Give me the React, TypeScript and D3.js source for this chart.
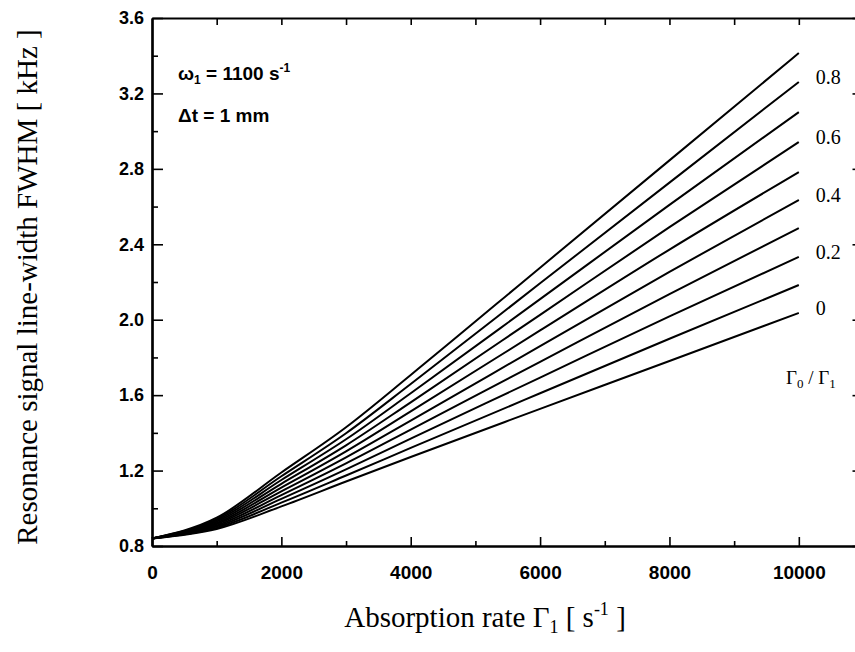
import * as d3 from 'd3';
import { useEffect, useRef } from 'react';

const WIDTH = 855;
const HEIGHT = 652;

// absorption rate samples (s^-1)
const RATE = [0, 1000, 2000, 3000, 4000, 6000, 8000, 10000];

// FWHM (kHz), one array per Γ0/Γ1 ratio
const FWHM_00 = [0.84, 0.89, 1.01, 1.142, 1.272, 1.527, 1.781, 2.036];
const FWHM_01 = [0.84, 0.896, 1.03, 1.174, 1.32, 1.61, 1.899, 2.184];
const FWHM_02 = [0.84, 0.903, 1.05, 1.206, 1.369, 1.693, 2.018, 2.333];
const FWHM_03 = [0.84, 0.909, 1.07, 1.238, 1.417, 1.777, 2.136, 2.486];
const FWHM_04 = [0.84, 0.916, 1.09, 1.27, 1.465, 1.86, 2.254, 2.635];
const FWHM_05 = [0.84, 0.922, 1.11, 1.302, 1.514, 1.943, 2.372, 2.783];
const FWHM_06 = [0.84, 0.929, 1.13, 1.334, 1.562, 2.026, 2.491, 2.942];
const FWHM_07 = [0.84, 0.936, 1.15, 1.366, 1.61, 2.109, 2.609, 3.101];
const FWHM_08 = [0.84, 0.943, 1.17, 1.398, 1.659, 2.193, 2.727, 3.261];
const FWHM_09 = [0.84, 0.95, 1.19, 1.43, 1.707, 2.276, 2.845, 3.414];

const SERIES = [FWHM_00, FWHM_01, FWHM_02, FWHM_03, FWHM_04, FWHM_05, FWHM_06, FWHM_07, FWHM_08, FWHM_09];

// labelled curves on the right and their text
const RATIO_LABELS = ['0', '0.2', '0.4', '0.6', '0.8'];
const RATIO_LABEL_SERIES = [FWHM_00, FWHM_02, FWHM_04, FWHM_06, FWHM_08];

const X_TICKS = [0, 2000, 4000, 6000, 8000, 10000];
const Y_TICKS = [0.8, 1.2, 1.6, 2.0, 2.4, 2.8, 3.2, 3.6];

export default function App() {
    const svgRef = useRef<SVGSVGElement | null>(null);

    useEffect(() => {
        if (!svgRef.current) {
            return;
        }
        const svg = d3.select(svgRef.current);
        svg.selectAll('*').remove();

        const x = d3.scaleLinear().domain([0, 11000]).range([152, 863.5]);
        const y = d3.scaleLinear().domain([0.8, 3.6]).range([546, 18]);

        const sans = 'Liberation Sans, Arial, sans-serif';
        const serif = 'Liberation Serif, Times New Roman, serif';

        // curves
        const line = d3
            .line<number>()
            .x((_, i) => x(RATE[i]))
            .y((d) => y(d))
            .curve(d3.curveMonotoneX);

        svg.append('g')
            .selectAll('path')
            .data(SERIES)
            .join('path')
            .attr('fill', 'none')
            .attr('stroke', '#000')
            .attr('stroke-width', 2)
            .attr('d', (d) => line(d));

        // frame + ticks
        const axisStyle = (sel: d3.Selection<SVGGElement, unknown, null, undefined>) => {
            sel.select('.domain').attr('stroke-width', 2.2);
            sel.selectAll('line').attr('stroke-width', 1.6);
        };

        const bottom = svg.append('g').attr('transform', `translate(0,${y.range()[0]})`);
        bottom.call(d3.axisBottom(x).tickValues(d3.range(1000, 11001, 2000)).tickSize(-5).tickFormat(() => '').tickSizeOuter(0));
        bottom.call(axisStyle);
        const bottomMajor = svg.append('g').attr('transform', `translate(0,${y.range()[0]})`);
        bottomMajor.call(
            d3.axisBottom(x).tickValues(X_TICKS).tickSize(-9).tickPadding(20).tickSizeOuter(0).tickFormat(d3.format('d')),
        );
        bottomMajor.call(axisStyle);
        bottomMajor.selectAll('text').attr('font-family', sans).attr('font-weight', 700).attr('font-size', 19).attr('fill', '#000');

        const top = svg.append('g').attr('transform', `translate(0,${y.range()[1]})`);
        top.call(d3.axisTop(x).tickValues(d3.range(1000, 11001, 1000)).tickSize(-7).tickFormat(() => '').tickSizeOuter(0));
        top.call(axisStyle);

        const left = svg.append('g').attr('transform', `translate(${x.range()[0]},0)`);
        left.call(d3.axisLeft(y).tickValues(d3.range(1.0, 3.5, 0.4)).tickSize(-6).tickFormat(() => '').tickSizeOuter(0));
        left.call(axisStyle);
        const leftMajor = svg.append('g').attr('transform', `translate(${x.range()[0]},0)`);
        leftMajor.call(
            d3.axisLeft(y).tickValues(Y_TICKS).tickSize(-11).tickPadding(8).tickSizeOuter(0).tickFormat(d3.format('.1f')),
        );
        leftMajor.call(axisStyle);
        leftMajor.selectAll('text').attr('font-family', sans).attr('font-weight', 700).attr('font-size', 18).attr('fill', '#000');

        const right = svg.append('g').attr('transform', `translate(${x.range()[1]},0)`);
        right.call(d3.axisRight(y).tickValues(Y_TICKS).tickSize(-11).tickFormat(() => '').tickSizeOuter(0));
        right.call(axisStyle);

        // ratio labels next to the curve ends
        const lastX = RATE[RATE.length - 1];
        svg.append('g')
            .selectAll('text')
            .data(RATIO_LABELS)
            .join('text')
            .attr('x', x(lastX) + 17)
            .attr('y', (_, i) => y(RATIO_LABEL_SERIES[i][RATE.length - 1]) + 2)
            .attr('font-family', serif)
            .attr('font-size', 20)
            .text((d) => d);

        const ratioTitle = svg
            .append('text')
            .attr('x', 786)
            .attr('y', 384)
            .attr('font-family', serif)
            .attr('font-size', 19);
        ratioTitle.append('tspan').text('Γ');
        ratioTitle.append('tspan').attr('font-size', 13).attr('dy', 4).text('0');
        ratioTitle.append('tspan').attr('dy', -4).text(' / Γ');
        ratioTitle.append('tspan').attr('font-size', 13).attr('dy', 4).text('1');

        // parameters in the top-left corner
        const omega = svg
            .append('text')
            .attr('x', 178)
            .attr('y', 80)
            .attr('font-family', sans)
            .attr('font-weight', 700)
            .attr('font-size', 19);
        omega.append('tspan').text('ω');
        omega.append('tspan').attr('font-size', 12).attr('dy', 4).text('1');
        omega.append('tspan').attr('dy', -4).text(' = 1100 s');
        omega.append('tspan').attr('font-size', 12).attr('dy', -8).text('-1');

        svg.append('text')
            .attr('x', 178)
            .attr('y', 122)
            .attr('font-family', sans)
            .attr('font-weight', 700)
            .attr('font-size', 19)
            .text('Δt = 1 mm');

        // axis titles
        const xTitle = svg
            .append('text')
            .attr('x', 485)
            .attr('y', 627)
            .attr('text-anchor', 'middle')
            .attr('font-family', serif)
            .attr('font-size', 29);
        xTitle.append('tspan').text('Absorption rate Γ');
        xTitle.append('tspan').attr('font-size', 18).attr('dy', 6).text('1');
        xTitle.append('tspan').attr('dy', -6).text(' [ s');
        xTitle.append('tspan').attr('font-size', 18).attr('dy', -12).text('-1');
        xTitle.append('tspan').attr('dy', 12).text(' ]');

        svg.append('text')
            .attr('transform', 'translate(37,287) rotate(-90)')
            .attr('text-anchor', 'middle')
            .attr('font-family', serif)
            .attr('font-size', 29)
            .text('Resonance signal line-width FWHM [ kHz ]');
    }, []);

    return (
        <svg
            ref={svgRef}
            width={WIDTH}
            height={HEIGHT}
            style={{ position: 'absolute', left: 0, top: 0, background: '#fff' }}
        />
    );
}
